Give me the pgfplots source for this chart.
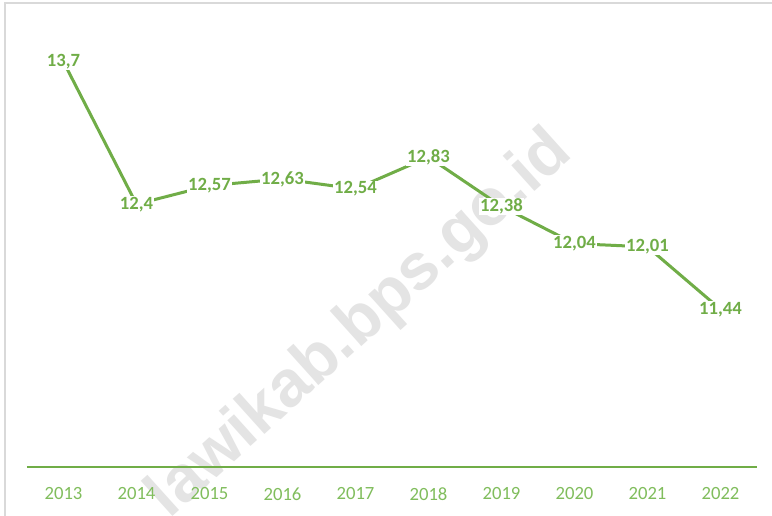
\documentclass[border=0pt]{standalone}
\usepackage{pgfplots}
\pgfplotsset{compat=1.18}
\usepackage{fontspec}
\setmainfont{Carlito}
\newfontfamily\wmfont{Liberation Sans}
\definecolor{exgreen}{RGB}{112,173,71}
\definecolor{ticklab}{RGB}{128,189,92}
\definecolor{wmgray}{RGB}{228,228,228}
\definecolor{bordergray}{RGB}{217,217,217}
\begin{document}
\begin{tikzpicture}
\clip (0pt,0pt) rectangle (579pt,387pt);
\fill[white] (0pt,0pt) rectangle (579pt,387pt);
\node[rotate=42, anchor=base west, inner sep=0pt, text=wmgray, font=\wmfont\bfseries\fontsize{49}{58}\selectfont] at (127pt,-3pt) {lawikab.bps.go.id};
\begin{axis}[
  at={(20.25pt,36.75pt)}, anchor=south west,
  scale only axis, width=547.5pt, height=328.5pt,
  xmin=-0.5, xmax=9.5, ymin=10, ymax=14,
  axis x line=bottom, axis y line=none,
  axis line style={exgreen, line width=1.4pt, -},
  x axis line style={-},
  xtick={0,...,9},
  xticklabels={2013,2014,2015,2016,2017,2018,2019,2020,2021,2022},
  major tick length=0pt,
  xticklabel style={text=ticklab, font=\fontsize{14}{16}\selectfont, yshift=-12pt},
  clip=false,
  nodes near coords,
  point meta=explicit symbolic,
  every node near coord/.append style={anchor=center, fill=white, inner sep=0.6pt, text=exgreen, font=\bfseries\fontsize{14}{16}\selectfont},
]
\addplot[exgreen, line width=2.25pt, mark=none] table[meta=lab] {
x y lab
0 13.70 13,7
1 12.40 12,4
2 12.57 12,57
3 12.63 12,63
4 12.54 12,54
5 12.83 12,83
6 12.38 12,38
7 12.04 12,04
8 12.01 12,01
9 11.44 11,44
};
\end{axis}
\draw[bordergray, line width=1.5pt] (3.4pt,0pt) -- (3.4pt,384.8pt) -- (579pt,384.8pt);
\end{tikzpicture}
\end{document}
